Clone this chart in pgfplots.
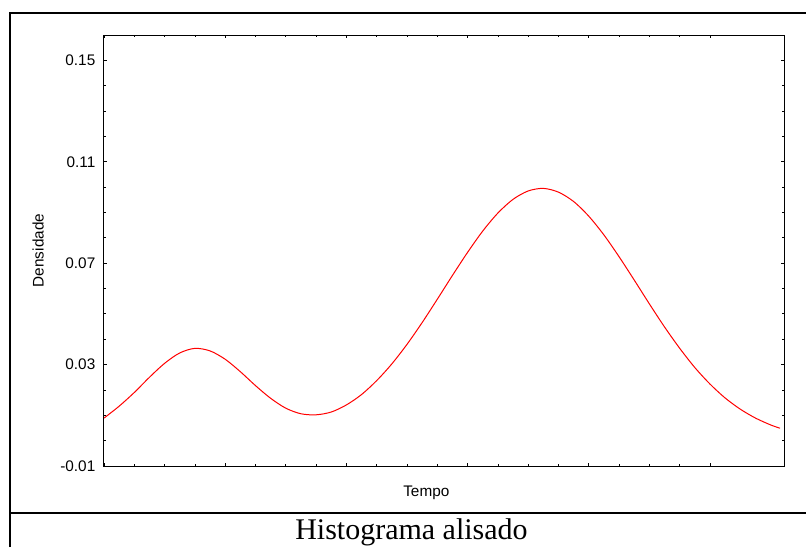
\documentclass[border=0pt]{standalone}
\usepackage{fontspec}
\setmainfont{Liberation Sans}
\newfontfamily\capserif{Liberation Serif}
\usepackage{pgfplots}
\pgfplotsset{compat=1.18}
\begin{document}
\begin{tikzpicture}
\useasboundingbox (0pt,0pt) rectangle (604.5pt,-410.25pt);
% outer frame
\draw[line width=1.5pt] (7.125pt,-410.25pt) -- (7.125pt,-9.375pt) -- (604.5pt,-9.375pt);
\draw[line width=1.5pt] (7.125pt,-384.4pt) -- (604.5pt,-384.4pt);
\begin{axis}[
  at={(78pt,-349.5pt)}, anchor=south west,
  scale only axis,
  width=510pt, height=323.25pt,
  xmin=0, xmax=22.44,
  ymin=-0.01, ymax=0.16,
  xtick={0,4,8,12,16,20},
  minor x tick num=3,
  xticklabels={},
  ytick={-0.01,0.03,0.07,0.11,0.15},
  yticklabels={-0.01,0.03,0.07,0.11,0.15},
  minor y tick num=3,
  tick align=inside,
  xtick pos=both, ytick pos=both,
  major tick length=2.6pt,
  minor tick length=1.6pt,
  axis line style={line width=0.75pt},
  every tick/.style={black, line width=0.6pt},
  tick label style={font=\fontsize{11.5}{13}\selectfont},
  yticklabel style={xshift=-3pt},
  label style={font=\fontsize{11.5}{13}\selectfont},
  xlabel={Tempo},
  ylabel={Densidade},
  xlabel style={at={(axis description cs:0.474,-0.0615)}, anchor=center},
  ylabel style={at={(axis description cs:-0.097,0.5)}, anchor=center},
  clip=true,
]
\addplot[red, line width=0.75pt, smooth] coordinates {
(0,0.0089) (0.5,0.0136) (1,0.0190) (1.5,0.0250) (2,0.0305) (2.5,0.0346)
(3,0.0364) (3.5,0.0354) (4,0.0321) (4.5,0.0272) (5,0.0217) (5.5,0.0167)
(6,0.0128) (6.5,0.0106) (7,0.0102) (7.5,0.0113) (8,0.0141) (8.5,0.0182)
(9,0.0237) (9.5,0.0303) (10,0.0380) (10.5,0.0466) (11,0.0558) (11.5,0.0652)
(12,0.0743) (12.5,0.0827) (13,0.0898) (13.5,0.0952) (14,0.0985) (14.5,0.0995)
(15,0.0980) (15.5,0.0943) (16,0.0885) (16.5,0.0811) (17,0.0725) (17.5,0.0633)
(18,0.0539) (18.5,0.0448) (19,0.0364) (19.5,0.0288) (20,0.0223) (20.5,0.0168)
(21,0.0124) (21.5,0.0089) (22,0.0062) (22.31,0.0049)
};
\end{axis}
\node[anchor=base, font=\capserif\fontsize{22.5}{26}\selectfont] at (308.6pt,-404.5pt) {Histograma alisado};
\end{tikzpicture}
\end{document}
